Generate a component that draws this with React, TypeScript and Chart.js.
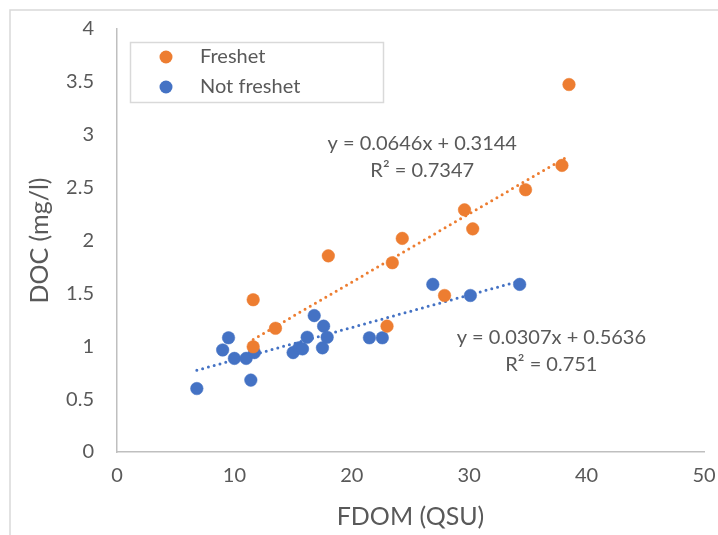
import { useEffect, useRef } from "react";
import { Chart, registerables } from "chart.js";

Chart.register(...registerables);

// FDOM (QSU) vs DOC (mg/l) samples
const freshetFdom = [11.6, 13.5, 11.6, 18.0, 24.3, 23.45, 23.0, 30.3, 27.9, 38.5, 37.9, 34.8, 29.6];
const freshetDoc = [1.44, 1.17, 0.995, 1.855, 2.02, 1.79, 1.19, 2.11, 1.48, 3.475, 2.71, 2.48, 2.29];

const notFreshetFdom = [6.8, 9.5, 9.0, 10.0, 11.0, 11.7, 11.4, 15.0, 15.5, 15.8, 16.2, 16.8, 17.6, 17.9, 17.5, 21.5, 22.6, 26.9, 30.1, 34.3];
const notFreshetDoc = [0.6, 1.08, 0.965, 0.885, 0.885, 0.94, 0.68, 0.94, 0.985, 0.975, 1.085, 1.29, 1.19, 1.085, 0.985, 1.08, 1.08, 1.585, 1.48, 1.585];

// Linear trend fits: [slope, intercept, R²]
const freshetFit = [0.0646, 0.3144, 0.7347];
const notFreshetFit = [0.0307, 0.5636, 0.751];

// Where each fit's equation is written, in data units [x, y of first line]
const freshetLabelAt = [26.0, 2.92];
const notFreshetLabelAt = [37.0, 1.087];

const seriesNames = ["Freshet", "Not freshet"];
const seriesColors = ["#ED7D31", "#4472C4"];

const xTicks = [0, 10, 20, 30, 40, 50];
const yTicks = [0, 0.5, 1, 1.5, 2, 2.5, 3, 3.5, 4];

const FONT = "Lato, 'Open Sans', sans-serif";
const TEXT = "#595959";

const toPoints = (xs: number[], ys: number[]) => xs.map((x, i) => ({ x, y: ys[i] }));

const fitLine = (xs: number[], fit: number[]) => {
  const lo = Math.min(...xs);
  const hi = Math.max(...xs);
  return [
    { x: lo, y: fit[0] * lo + fit[1] },
    { x: hi, y: fit[0] * hi + fit[1] },
  ];
};

const eqText = (fit: number[]) => [
  `y = ${fit[0]}x + ${fit[1]}`,
  `R\u00B2 = ${fit[2]}`,
];

const decorPlugin = {
  id: "decor",
  beforeDraw(chart: any) {
    const ctx = chart.ctx;
    ctx.save();
    ctx.fillStyle = "#ffffff";
    ctx.fillRect(0, 0, chart.width, chart.height);
    ctx.strokeStyle = "#d9d9d9";
    ctx.lineWidth = 1.5;
    ctx.strokeRect(10, 10, chart.width + 20, chart.height + 20);
    ctx.restore();
  },
  afterDraw(chart: any) {
    const ctx = chart.ctx;
    const xs = chart.scales.x;
    const ys = chart.scales.y;
    ctx.save();

    // legend
    ctx.strokeStyle = "#d9d9d9";
    ctx.lineWidth = 1.5;
    ctx.strokeRect(130.5, 42.5, 253, 60);
    ctx.font = `20px ${FONT}`;
    ctx.textBaseline = "middle";
    ctx.textAlign = "left";
    seriesNames.forEach((name, i) => {
      const cy = 57 + i * 30;
      ctx.fillStyle = seriesColors[i];
      ctx.beginPath();
      ctx.arc(166, cy, 6.5, 0, Math.PI * 2);
      ctx.fill();
      ctx.fillStyle = TEXT;
      ctx.fillText(name, 200, cy);
    });

    // trend equations
    ctx.textAlign = "center";
    const labels: [number[], number[]][] = [
      [freshetFit, freshetLabelAt],
      [notFreshetFit, notFreshetLabelAt],
    ];
    labels.forEach(([fit, at]) => {
      const px = xs.getPixelForValue(at[0]);
      const py = ys.getPixelForValue(at[1]);
      eqText(fit).forEach((line, k) => {
        ctx.fillStyle = TEXT;
        ctx.fillText(line, px, py + k * 27);
      });
    });
    ctx.restore();
  },
};

export default function App() {
  const ref = useRef<HTMLCanvasElement | null>(null);

  useEffect(() => {
    if (!ref.current) return;
    const pointStyle = (i: number) => ({
      backgroundColor: seriesColors[i],
      borderColor: seriesColors[i],
      borderWidth: 0.5,
      pointRadius: 6.3,
      pointHoverRadius: 6.3,
      showLine: false,
      order: 0,
    });
    const trendStyle = (i: number) => ({
      borderColor: seriesColors[i],
      backgroundColor: seriesColors[i],
      borderWidth: 3,
      borderDash: [0, 6],
      borderCapStyle: "round" as const,
      pointRadius: 0,
      showLine: true,
      fill: false,
      order: 1,
    });

    const chart = new Chart(ref.current, {
      type: "scatter",
      data: {
        datasets: [
          { label: seriesNames[0], data: toPoints(freshetFdom, freshetDoc), ...pointStyle(0) },
          { label: seriesNames[1], data: toPoints(notFreshetFdom, notFreshetDoc), ...pointStyle(1) },
          { label: "Linear (Freshet)", data: fitLine(freshetFdom, freshetFit), ...trendStyle(0) },
          { label: "Linear (Not freshet)", data: fitLine(notFreshetFdom, notFreshetFit), ...trendStyle(1) },
        ],
      },
      options: {
        responsive: false,
        animation: false,
        layout: { padding: { top: 29, right: 14, left: 0, bottom: 0 } },
        plugins: {
          legend: { display: false },
          tooltip: { enabled: false },
        },
        scales: {
          x: {
            type: "linear",
            min: xTicks[0],
            max: xTicks[xTicks.length - 1],
            afterBuildTicks: (scale: any) => {
              scale.ticks = xTicks.map((v) => ({ value: v }));
            },
            afterFit: (scale: any) => {
              scale.height = 83;
              scale.paddingLeft = 0;
              scale.paddingRight = 0;
            },
            grid: { display: false, drawTicks: false },
            border: { display: true, color: "#bfbfbf", width: 1.5 },
            ticks: {
              color: TEXT,
              font: { family: FONT, size: 20 },
              padding: 12,
              maxRotation: 0,
              callback: (v: any) => String(v),
            },
            title: {
              display: true,
              text: "FDOM (QSU)",
              color: TEXT,
              font: { family: FONT, size: 25 },
              padding: { top: 0, bottom: 3 },
            },
          },
          y: {
            type: "linear",
            min: yTicks[0],
            max: yTicks[yTicks.length - 1],
            afterBuildTicks: (scale: any) => {
              scale.ticks = yTicks.map((v) => ({ value: v }));
            },
            afterFit: (scale: any) => {
              scale.width = 117;
              scale.paddingTop = 0;
              scale.paddingBottom = 0;
            },
            grid: { display: false, drawTicks: false },
            border: { display: true, color: "#bfbfbf", width: 1.5 },
            ticks: {
              color: TEXT,
              font: { family: FONT, size: 20 },
              padding: 23,
              callback: (v: any) => String(v),
            },
            title: {
              display: true,
              text: "DOC (mg/l)",
              color: TEXT,
              font: { family: FONT, size: 25 },
              padding: { top: 25, bottom: 0 },
            },
          },
        },
      },
      plugins: [decorPlugin],
    });
    return () => chart.destroy();
  }, []);

  return (
    <div style={{ position: "fixed", left: 0, top: 0, width: 718, height: 535, background: "#fff" }}>
      <canvas ref={ref} width={718} height={535} />
    </div>
  );
}
